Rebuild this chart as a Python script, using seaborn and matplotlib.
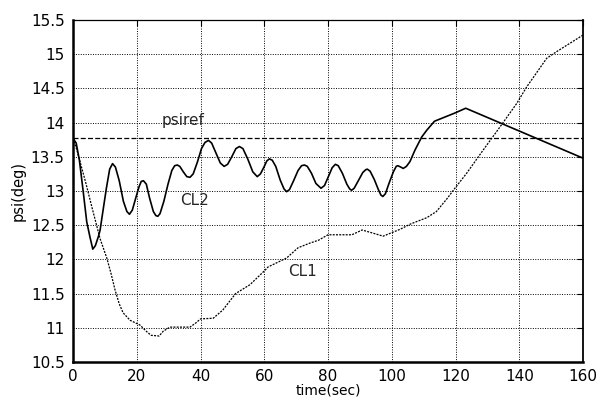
import matplotlib
matplotlib.use("Agg")
import matplotlib.pyplot as plt
import seaborn as sns
import pandas as pd

# Closed-loop heading responses (time in seconds, psi in degrees)
cl2_time = [0, 1, 2, 3.2, 4.3, 5.3, 6.2, 7, 8, 8.5, 9.3, 10.5, 11.5, 12.4,
            13.3, 14.5, 15.8, 16.9, 17.7, 18.6, 19.7, 20.7, 21.4, 22.1,
            23, 24, 25.2, 26.0, 26.6, 27.3, 28.5, 29.8, 31.0, 31.9, 32.7,
            33.5, 34.6, 35.7, 36.7, 37.7, 39, 40.3, 41.4, 42.5,
            43.5, 44.8, 46.2, 47.4, 48.5, 49.8, 51.1, 52.2,
            53.3, 54.8, 56.4, 57.8, 58.8, 59.9, 60.8, 61.6,
            62.5, 63.6, 65.0, 66.2, 67.0, 67.9, 69.2, 70.6, 71.7, 72.6,
            73.5, 74.8, 76.2, 77.8, 78.9, 80.2, 81.3, 82.3,
            83.2, 84.5, 85.9, 86.8, 87.4, 88.2, 89.5, 90.9, 91.8, 92.3,
            93.2, 94.5, 95.8, 96.6, 97.2, 98, 99.2, 100.5, 101.4, 101.9,
            102.8, 103.6, 104.6, 105.7, 107.3, 109.4, 111.0, 113.4,
            119.8, 123.2, 160]
cl2_psi = [13.77, 13.70, 13.45, 12.99, 12.55, 12.33, 12.15, 12.20, 12.34, 12.43,
           12.68, 13.05, 13.32, 13.40,
           13.35, 13.15, 12.85, 12.70, 12.66, 12.72, 12.90, 13.06, 13.14, 13.15,
           13.10, 12.90, 12.70, 12.64, 12.63, 12.67, 12.85, 13.10, 13.30, 13.37, 13.38,
           13.36, 13.28, 13.21, 13.20, 13.25, 13.42, 13.62, 13.71, 13.74,
           13.70, 13.56, 13.41, 13.36, 13.39, 13.50, 13.62, 13.65,
           13.62, 13.47, 13.28, 13.21, 13.25, 13.35, 13.44, 13.47,
           13.45, 13.36, 13.16, 13.03, 12.99, 13.02, 13.15, 13.30, 13.37, 13.38,
           13.36, 13.26, 13.11, 13.04, 13.08, 13.22, 13.34, 13.39,
           13.37, 13.26, 13.10, 13.03, 13.01, 13.04, 13.15, 13.27, 13.31, 13.32,
           13.29, 13.17, 13.02, 12.94, 12.92, 12.96, 13.12, 13.28, 13.36, 13.37,
           13.35, 13.33, 13.36, 13.43, 13.60, 13.79, 13.89, 14.02,
           14.14, 14.21, 13.48]

cl1_time = [0, 1.2, 4, 6, 8.5, 10.6, 12, 13.2, 14.5, 15.7, 17.9, 21, 23.2,
            24.5, 27, 28.3, 30.4, 36.7, 38.5, 40, 44, 47, 51, 55.5, 60.2,
            61.2, 67, 70.6, 74.4, 77, 80, 87.5, 90.7, 97.3, 102.6, 106, 111,
            114, 117.2, 119.8, 123.5, 128.7, 134, 139.2, 142.3, 148.6, 151.8,
            160]
cl1_psi = [13.77, 13.60, 13.12, 12.75, 12.30, 12.02, 11.78, 11.55, 11.35,
           11.22, 11.11, 11.04, 10.94, 10.89, 10.88, 10.95, 11.01, 11.01,
           11.07, 11.13, 11.14, 11.26, 11.50, 11.63, 11.84, 11.89, 12.02,
           12.17, 12.24, 12.28, 12.36, 12.36, 12.43, 12.34, 12.44, 12.52,
           12.61, 12.70, 12.88, 13.04, 13.26, 13.60, 13.94, 14.28, 14.52,
           14.94, 15.04, 15.28]

psiref = 13.775

x_ticks = [0, 20, 40, 60, 80, 100, 120, 140, 160]
y_ticks = [10.5, 11, 11.5, 12, 12.5, 13, 13.5, 14, 14.5, 15, 15.5]
y_tick_labels = ["10.5", "11", "11.5", "12", "12.5", "13", "13.5", "14",
                 "14.5", "15", "15.5"]

sns.set_theme(style="white")
plt.rcParams["font.family"] = ["DejaVu Sans"]

fig = plt.figure(figsize=(6, 4), dpi=100)
ax = fig.add_axes([0.1217, 0.095, 0.85, 0.855])

df2 = pd.DataFrame({"time": cl2_time, "psi": cl2_psi})
df1 = pd.DataFrame({"time": cl1_time, "psi": cl1_psi})

sns.lineplot(data=df2, x="time", y="psi", ax=ax, color="black",
             linewidth=1.2, estimator=None)
sns.lineplot(data=df1, x="time", y="psi", ax=ax, color="black",
             linewidth=0.9, linestyle=(0, (1.6, 1.0)), estimator=None)
ax.axhline(psiref, color="black", linewidth=0.9, linestyle=(0, (4, 1.8)))

ax.set_xlim(0, 160)
ax.set_ylim(10.5, 15.5)
ax.set_xticks(x_ticks)
ax.set_xticklabels([str(v) for v in x_ticks])
ax.set_yticks(y_ticks)
ax.set_yticklabels(y_tick_labels)

ax.grid(True, color="black", linestyle=(0, (1, 1.5)), linewidth=0.7)
ax.tick_params(direction="in", length=4, width=0.8, colors="black",
               labelsize=11, top=True, right=True)
ax.tick_params(axis="x", pad=5)
ax.tick_params(axis="y", pad=6)

for side, lw in (("left", 1.8), ("bottom", 1.8), ("right", 1.3), ("top", 0.9)):
    ax.spines[side].set_visible(True)
    ax.spines[side].set_color("black")
    ax.spines[side].set_linewidth(lw)

ax.set_xlabel("time(sec)", fontsize=10, color="black", labelpad=0)
ax.set_ylabel("psi(deg)", fontsize=10.5, color="black", labelpad=4)

ax.text(27.9, 13.96, "psiref", fontsize=11, ha="left", va="baseline")
ax.text(33.6, 12.86, "CL2", fontsize=11, ha="left", va="center")
ax.text(67.5, 11.82, "CL1", fontsize=11, ha="left", va="center")

fig.savefig("out.png", dpi=100)
